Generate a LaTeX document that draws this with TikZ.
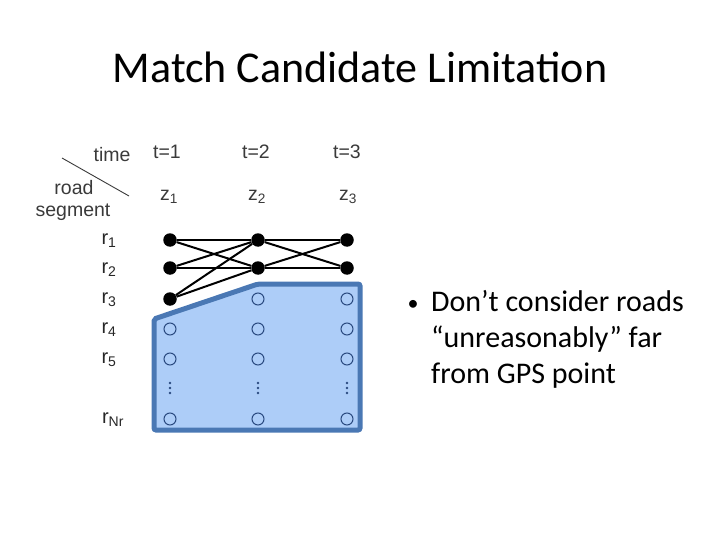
\documentclass[tikz,border=0pt]{standalone}
\usepackage{fontspec}
\setmainfont{Carlito}
\newfontfamily\arialfont{Liberation Sans}
\definecolor{boxfill}{HTML}{ADCDF8}
\definecolor{boxline}{HTML}{4A78B4}
\definecolor{circ}{HTML}{2A4A80}
\definecolor{lab}{HTML}{3A3A3A}
\begin{document}
\begin{tikzpicture}[x=1pt,y=-1pt,
  lbl/.style={font=\arialfont\fontsize{19.5}{21}\selectfont, text=lab, inner sep=0pt},
  rlbl/.style={font=\arialfont\fontsize{20}{22}\selectfont, text=black!85, inner sep=0pt},
  fdot/.style={circle, fill=black, minimum size=13.5pt, inner sep=0pt},
  odot/.style={circle, draw=circ, line width=1pt, minimum size=12pt, inner sep=0pt},
  edge/.style={line width=2pt, black}]
\useasboundingbox (0,0) rectangle (720,540);
% title
\node[font=\fontsize{44}{48}\selectfont, inner sep=0pt] (title) at (360,67) {Match Candidate Limitation};
% blue region
\draw[line width=5pt, draw=boxline, fill=boxfill, rounded corners=2pt]
  (154,319) -- (258,284) -- (360,284) -- (360,430) -- (154,430) -- cycle;
% header
\coordinate (d1) at (62,158);
\coordinate (d2) at (129,196);
\draw[line width=0.9pt, lab] (d1) -- (d2);
\node[lbl] (time) at (112,155) {time};
\node[lbl] (road) at (74,188) {road};
\node[lbl] (seg) at (73,212) {segment};
\node[lbl] (t1) at (167,152) {t=1};
\node[lbl] (t2) at (256,152) {t=2};
\node[lbl] (t3) at (347,152) {t=3};
\node[lbl] (z1) at (169,197) {z\textsubscript{1}};
\node[lbl] (z2) at (257,197) {z\textsubscript{2}};
\node[lbl] (z3) at (348,197) {z\textsubscript{3}};
% row labels
\node[rlbl] (r1) at (109,241) {r\textsubscript{1}};
\node[rlbl] (r2) at (109,270) {r\textsubscript{2}};
\node[rlbl] (r3) at (109,300) {r\textsubscript{3}};
\node[rlbl] (r4) at (109,330) {r\textsubscript{4}};
\node[rlbl] (r5) at (109,360) {r\textsubscript{5}};
\node[rlbl] (rN) at (113,420) {r\textsubscript{Nr}};
% nodes
\node[fdot] (a1) at (170,240) {};
\node[fdot] (a2) at (170,268) {};
\node[fdot] (a3) at (170,299) {};
\node[fdot] (b1) at (258,240) {};
\node[fdot] (b2) at (258,268) {};
\node[fdot] (c1) at (347,240) {};
\node[fdot] (c2) at (347,268) {};
\node[odot] (a4) at (170,329) {};
\node[odot] (a5) at (170,359) {};
\node[odot] (aN) at (170,419) {};
\node[odot] (b3) at (258,299) {};
\node[odot] (b4) at (258,329) {};
\node[odot] (b5) at (258,359) {};
\node[odot] (bN) at (258,419) {};
\node[odot] (c3) at (347,299) {};
\node[odot] (c4) at (347,329) {};
\node[odot] (c5) at (347,359) {};
\node[odot] (cN) at (347,419) {};
% vertical ellipses
\foreach \x/\n in {170/ea,258/eb,347/ec}{
  \node[inner sep=0pt, minimum size=1pt] (\n) at (\x,388) {};
  \foreach \dy in {-5,0,5} \fill[circ] (\x,388+\dy) circle (1.3pt);
}
% edges
\draw[edge] (a1) -- (b1);
\draw[edge] (a1) -- (b2);
\draw[edge] (a2) -- (b1);
\draw[edge] (a2) -- (b2);
\draw[edge] (a3) -- (b1);
\draw[edge] (a3) -- (b2);
\draw[edge] (b1) -- (c1);
\draw[edge] (b1) -- (c2);
\draw[edge] (b2) -- (c1);
\draw[edge] (b2) -- (c2);
% bullet text
\node[font=\fontsize{30}{36}\selectfont, anchor=north west, align=left, inner sep=0pt] (txt) at (431,290)
  {Don’t consider roads\\“unreasonably” far\\from GPS point};
\node[font=\fontsize{22}{36}\selectfont, inner sep=0pt] (bul) at (413,305) {•};
\end{tikzpicture}
\end{document}
